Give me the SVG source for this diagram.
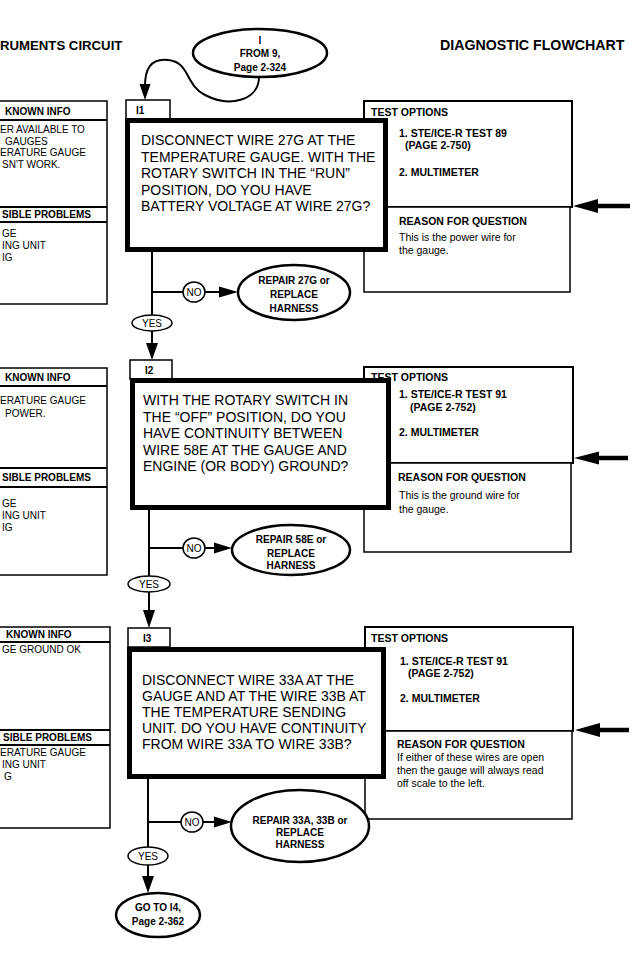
<svg xmlns="http://www.w3.org/2000/svg" width="643" height="957" viewBox="0 0 643 957">
<defs>
<style>
text{font-family:"Liberation Sans",Arial,sans-serif;fill:#000}
.ttl{font-weight:bold}
.hdr{font-size:10px;font-weight:bold}
.pb{font-size:10px}
.q{font-size:14px}
.tb{font-size:10.5px;font-weight:bold}
.tr{font-size:10.5px}
.ov{font-size:10px;font-weight:bold;text-anchor:middle}
.yn{font-size:10px;text-anchor:middle}
.box{fill:#fff;stroke:#000;stroke-width:1.5}
.tbox{fill:#fff;stroke:#000;stroke-width:2}
.thick{fill:#fff;stroke:#000;stroke-width:5}
.oval{fill:#fff;stroke:#000;stroke-width:2.5}
.sm{fill:#fff;stroke:#000;stroke-width:1.5}
.ln{fill:none;stroke:#000;stroke-width:2}
.big{fill:none;stroke:#000;stroke-width:4.5}
</style>
</defs>
<rect width="643" height="957" fill="#fff"/>
<text class="ttl" x="0" y="50" font-size="13.2">RUMENTS CIRCUIT</text>
<text class="ttl" x="440" y="50" font-size="14.2">DIAGNOSTIC FLOWCHART</text>

<!-- start oval -->
<g id="start">
<ellipse class="oval" cx="260" cy="53" rx="67" ry="24"/>
<text class="ov" x="260" y="44">I</text>
<text class="ov" x="260" y="57">FROM 9,</text>
<text class="ov" x="260" y="71">Page 2-324</text>
</g>

<!-- Section I1 -->
<g id="info1">
<rect class="box" x="-2" y="101" width="109" height="203"/>
<line class="ln" x1="-2" y1="120" x2="107" y2="120" stroke-width="1.5"/>
<line class="ln" x1="-2" y1="207" x2="107" y2="207" stroke-width="1.5"/>
<line class="ln" x1="-2" y1="222" x2="107" y2="222" stroke-width="1.5"/>
<text class="hdr" x="5" y="115">KNOWN INFO</text>
<text class="pb" x="0" y="133">ER AVAILABLE TO</text>
<text class="pb" x="5" y="144.5">GAUGES</text>
<text class="pb" x="0" y="156">ERATURE GAUGE</text>
<text class="pb" x="2" y="167.5">SN'T WORK.</text>
<text class="hdr" x="2" y="218">SIBLE PROBLEMS</text>
<text class="pb" x="2" y="237">GE</text>
<text class="pb" x="2" y="249">ING UNIT</text>
<text class="pb" x="2" y="261">IG</text>
</g>
<g id="test1">
<rect class="tbox" x="364" y="101" width="208" height="106"/>
<rect class="box" x="364" y="207" width="206" height="85"/>
<text class="tb" x="371" y="116">TEST OPTIONS</text>
<text class="tb" x="399" y="137">1. STE/ICE-R TEST 89</text>
<text class="tb" x="405" y="149">(PAGE 2-750)</text>
<text class="tb" x="399" y="176">2. MULTIMETER</text>
<text class="tb" x="399" y="225">REASON FOR QUESTION</text>
<text class="tr" x="399" y="241">This is the power wire for</text>
<text class="tr" x="399" y="254">the gauge.</text>
</g>
<g id="I1">
<rect class="sm" x="126" y="100" width="44" height="19"/>
<text class="hdr" x="136" y="114">I1</text>
<rect class="thick" x="127.5" y="120.5" width="258" height="129"/>
<text class="q" x="141" y="145">DISCONNECT WIRE 27G AT THE</text>
<text class="q" x="141" y="161.5">TEMPERATURE GAUGE. WITH THE</text>
<text class="q" x="141" y="178">ROTARY SWITCH IN THE “RUN”</text>
<text class="q" x="141" y="194.5">POSITION, DO YOU HAVE</text>
<text class="q" x="141" y="211">BATTERY VOLTAGE AT WIRE 27G?</text>
</g>
<g id="no1">
<ellipse class="sm" cx="194" cy="292" rx="11" ry="10"/>
<text class="yn" x="194" y="296">NO</text>
</g>
<g id="repair1">
<ellipse class="oval" cx="294" cy="292.5" rx="56" ry="27.5"/>
<text class="ov" x="294" y="284">REPAIR 27G or</text>
<text class="ov" x="294" y="298">REPLACE</text>
<text class="ov" x="294" y="312">HARNESS</text>
</g>
<g id="yes1">
<ellipse class="sm" cx="152" cy="323" rx="20" ry="8"/>
<text class="yn" x="152" y="327">YES</text>
</g>

<!-- Section I2 -->
<g id="info2">
<rect class="box" x="-2" y="368" width="109" height="207"/>
<line class="ln" x1="-2" y1="386" x2="107" y2="386" stroke-width="1.5"/>
<line class="ln" x1="-2" y1="468" x2="107" y2="468" stroke-width="1.5"/>
<line class="ln" x1="-2" y1="487" x2="107" y2="487" stroke-width="1.5"/>
<text class="hdr" x="5" y="381">KNOWN INFO</text>
<text class="pb" x="0" y="404">ERATURE GAUGE</text>
<text class="pb" x="5" y="416.5">POWER.</text>
<text class="hdr" x="2" y="481">SIBLE PROBLEMS</text>
<text class="pb" x="2" y="507">GE</text>
<text class="pb" x="2" y="519">ING UNIT</text>
<text class="pb" x="2" y="531">IG</text>
</g>
<g id="test2">
<rect class="tbox" x="364" y="367" width="209" height="96"/>
<rect class="box" x="364" y="463" width="207" height="89"/>
<text class="tb" x="371" y="381">TEST OPTIONS</text>
<text class="tb" x="399" y="398">1. STE/ICE-R TEST 91</text>
<text class="tb" x="410" y="411">(PAGE 2-752)</text>
<text class="tb" x="399" y="436">2. MULTIMETER</text>
<text class="tb" x="398" y="481">REASON FOR QUESTION</text>
<text class="tr" x="399" y="499">This is the ground wire for</text>
<text class="tr" x="399" y="513">the gauge.</text>
</g>
<g id="I2">
<rect class="sm" x="130" y="360" width="42" height="19"/>
<text class="hdr" x="145" y="374">I2</text>
<rect class="thick" x="132.5" y="380.5" width="256" height="127"/>
<text class="q" x="143" y="405">WITH THE ROTARY SWITCH IN</text>
<text class="q" x="143" y="421.5">THE “OFF” POSITION, DO YOU</text>
<text class="q" x="143" y="438">HAVE CONTINUITY BETWEEN</text>
<text class="q" x="143" y="454.5">WIRE 58E AT THE GAUGE AND</text>
<text class="q" x="143" y="471">ENGINE (OR BODY) GROUND?</text>
</g>
<g id="no2">
<ellipse class="sm" cx="194" cy="548" rx="11" ry="10"/>
<text class="yn" x="194" y="552">NO</text>
</g>
<g id="repair2">
<ellipse class="oval" cx="291" cy="550" rx="59" ry="25"/>
<text class="ov" x="291" y="543">REPAIR 58E or</text>
<text class="ov" x="291" y="557">REPLACE</text>
<text class="ov" x="291" y="569">HARNESS</text>
</g>
<g id="yes2">
<ellipse class="sm" cx="149" cy="584" rx="21" ry="8"/>
<text class="yn" x="149" y="588">YES</text>
</g>

<!-- Section I3 -->
<g id="info3">
<rect class="box" x="-2" y="627" width="112" height="201"/>
<line class="ln" x1="-2" y1="642" x2="110" y2="642" stroke-width="1.5"/>
<line class="ln" x1="-2" y1="730" x2="110" y2="730" stroke-width="1.5"/>
<line class="ln" x1="-2" y1="745" x2="110" y2="745" stroke-width="1.5"/>
<text class="hdr" x="6" y="638">KNOWN INFO</text>
<text class="pb" x="2" y="653">GE GROUND OK</text>
<text class="hdr" x="3" y="741">SIBLE PROBLEMS</text>
<text class="pb" x="0" y="756">ERATURE GAUGE</text>
<text class="pb" x="2" y="768">ING UNIT</text>
<text class="pb" x="4" y="780">G</text>
</g>
<g id="test3">
<rect class="tbox" x="365" y="627" width="208" height="104"/>
<rect class="box" x="365" y="731" width="207" height="88"/>
<text class="tb" x="371" y="642">TEST OPTIONS</text>
<text class="tb" x="400" y="665">1. STE/ICE-R TEST 91</text>
<text class="tb" x="408" y="677">(PAGE 2-752)</text>
<text class="tb" x="400" y="702">2. MULTIMETER</text>
<text class="tb" x="397" y="748">REASON FOR QUESTION</text>
<text class="tr" x="397" y="761">If either of these wires are open</text>
<text class="tr" x="397" y="774">then the gauge will always read</text>
<text class="tr" x="397" y="787">off scale to the left.</text>
</g>
<g id="I3">
<rect class="sm" x="128" y="628" width="42" height="19"/>
<text class="hdr" x="143" y="642">I3</text>
<rect class="thick" x="129.5" y="649.5" width="254" height="127"/>
<text class="q" x="142" y="685">DISCONNECT WIRE 33A AT THE</text>
<text class="q" x="142" y="701">GAUGE AND AT THE WIRE 33B AT</text>
<text class="q" x="142" y="717">THE TEMPERATURE SENDING</text>
<text class="q" x="142" y="733">UNIT. DO YOU HAVE CONTINUITY</text>
<text class="q" x="142" y="749">FROM WIRE 33A TO WIRE 33B?</text>
</g>
<g id="no3">
<ellipse class="sm" cx="192" cy="822" rx="11" ry="10"/>
<text class="yn" x="192" y="826">NO</text>
</g>
<g id="repair3">
<ellipse class="oval" cx="300" cy="826" rx="69" ry="36"/>
<text class="ov" x="300" y="824">REPAIR 33A, 33B or</text>
<text class="ov" x="300" y="836">REPLACE</text>
<text class="ov" x="300" y="848">HARNESS</text>
</g>
<g id="yes3">
<ellipse class="sm" cx="148" cy="856" rx="20" ry="9"/>
<text class="yn" x="148" y="860">YES</text>
</g>
<g id="goto">
<ellipse class="oval" cx="158" cy="915" rx="42" ry="22"/>
<text class="ov" x="158" y="911">GO TO I4,</text>
<text class="ov" x="158" y="925">Page 2-362</text>
</g>

<!-- connectors -->
<g id="connectors">
<path class="ln" stroke-width="2.5" d="M259 77 C259 100 230 108 205 95 C185 85 190 62 168 60 C150 58 145 70 145 86"/>
<polygon points="145,100 139.5,84 150.5,84"/>

<line class="ln" x1="152" y1="252" x2="152" y2="315"/>
<line class="ln" x1="152" y1="292" x2="183" y2="292"/>
<line class="ln" x1="205" y1="292" x2="220" y2="292"/>
<polygon points="238,292 219,286.5 219,297.5"/>
<line class="ln" x1="152" y1="331" x2="152" y2="346"/>
<polygon points="152,360 146,343 158,343"/>

<line class="ln" x1="149" y1="510" x2="149" y2="576"/>
<line class="ln" x1="149" y1="548" x2="183" y2="548"/>
<line class="ln" x1="205" y1="548" x2="216" y2="548"/>
<polygon points="232,548 214,542.5 214,553.5"/>
<line class="ln" x1="149" y1="592" x2="149" y2="612"/>
<polygon points="149,628 143,610 155,610"/>

<line class="ln" x1="148" y1="779" x2="148" y2="847"/>
<line class="ln" x1="148" y1="822" x2="181" y2="822"/>
<line class="ln" x1="203" y1="822" x2="216" y2="822"/>
<polygon points="232,822 214,816.5 214,827.5"/>
<line class="ln" x1="148" y1="865" x2="148" y2="878"/>
<polygon points="148,893 142,876 154,876"/>

<line class="big" x1="596" y1="206" x2="630" y2="206"/>
<polygon points="573,206 598,199 598,213"/>
<line class="big" x1="596" y1="458" x2="628" y2="458"/>
<polygon points="574,458 599,451.5 599,464.5"/>
<line class="big" x1="597" y1="730" x2="629" y2="730"/>
<polygon points="575,730 600,723 600,737"/>
</g>
</svg>
